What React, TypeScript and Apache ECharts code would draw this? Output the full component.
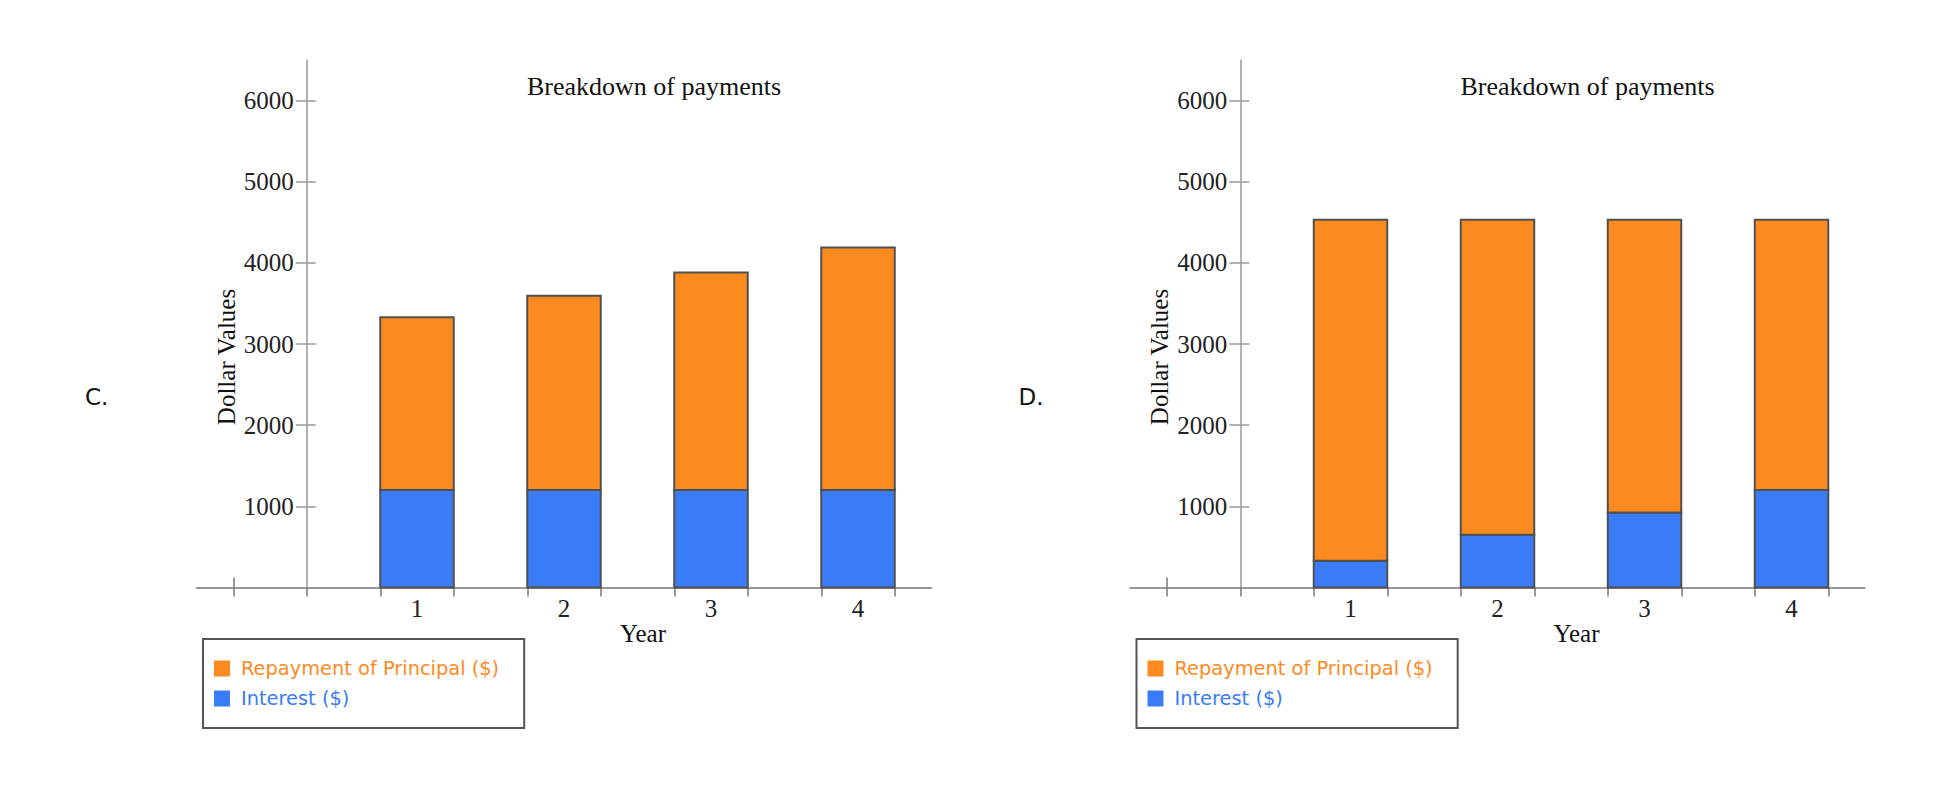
import React, { useEffect, useRef } from 'react';
import * as echarts from 'echarts';

// ---- data ----
const years = [1, 2, 3, 4];
const interestC = [1200, 1200, 1200, 1200];
const principalC = [2130, 2395, 2680, 2990];
const interestD = [330, 650, 925, 1200];
const principalD = [4200, 3880, 3605, 3330];
const yTickValues = [0, 1000, 2000, 3000, 4000, 5000, 6000];
const yLabelValues = [1000, 2000, 3000, 4000, 5000, 6000];
const xTickValues = [-0.25, 0.25, 0.75, 1.25, 1.75, 2.25, 2.75, 3.25, 3.75, 4.25];
const panelLetters = ['C.', 'D.'];
const chartTitle = 'Breakdown of payments';
const yName = 'Dollar Values';
const xName = 'Year';
const principalName = 'Repayment of Principal ($)';
const interestName = 'Interest ($)';

const ORANGE = '#FD8A1E';
const BLUE = '#3A7CF7';
const SERIF = '"Liberation Serif", "Times New Roman", serif';
const SANS = '"DejaVu Sans", Verdana, sans-serif';

const panels = [
  { interest: interestC, principal: principalC, dx: 0 },
  { interest: interestD, principal: principalD, dx: 933.5 },
];

const GRID_LEFT = 196.5;
const GRID_TOP = 60;
const GRID_W = 735;
const GRID_H = 527.5;
const X_MIN = -0.5;
const X_MAX = 4.5;
const Y_AXIS_AT = 0.25;
const BAR_W = 0.5;

export default function App() {
  const ref = useRef<HTMLDivElement>(null);
  useEffect(() => {
    if (!ref.current) return;
    const chart = echarts.init(ref.current, null, { renderer: 'svg' });
    const yOff = ((Y_AXIS_AT - X_MIN) / (X_MAX - X_MIN)) * GRID_W;

    const grids: any[] = [];
    const xAxes: any[] = [];
    const yAxes: any[] = [];
    const series: any[] = [];
    const legends: any[] = [];
    const graphics: any[] = [];

    const renderBar = (color: string) => (params: any, api: any) => {
      const x = api.value(0);
      const lo = api.value(1);
      const hi = api.value(2);
      const w = api.size([BAR_W, 0])[0];
      const pTop = api.coord([x, hi]);
      const pBot = api.coord([x, lo]);
      return {
        type: 'rect',
        shape: { x: pTop[0] - w / 2, y: pTop[1], width: w, height: pBot[1] - pTop[1] },
        style: { fill: color, stroke: '#505050', lineWidth: 2 },
      };
    };

    panels.forEach((p, i) => {
      const left = GRID_LEFT + p.dx;
      grids.push({ left, top: GRID_TOP, width: GRID_W, height: GRID_H, containLabel: false });
      xAxes.push({
        gridIndex: i,
        type: 'value',
        min: X_MIN,
        max: X_MAX,
        position: 'bottom',
        axisLine: { onZero: false, lineStyle: { color: '#777', width: 1.5 } },
        axisTick: { customValues: xTickValues, length: 9, lineStyle: { color: '#777', width: 1.5 } },
        axisLabel: {
          customValues: years,
          margin: 8,
          fontFamily: SERIF,
          fontSize: 25,
          color: '#222',
          formatter: (v: number) => String(v),
        },
        splitLine: { show: false },
      });
      xAxes.push({
        gridIndex: i,
        type: 'value',
        min: X_MIN,
        max: X_MAX,
        position: 'top',
        offset: -GRID_H,
        axisLine: { show: false, onZero: false },
        axisTick: { customValues: [xTickValues[0]], length: 10, lineStyle: { color: '#777', width: 1.5 } },
        axisLabel: { show: false },
        splitLine: { show: false },
      });
      yAxes.push({
        gridIndex: i,
        type: 'value',
        min: 0,
        max: 6500,
        position: 'left',
        offset: -yOff,
        axisLine: { onZero: false, lineStyle: { color: '#999', width: 1.5 } },
        axisTick: { customValues: yTickValues, length: 11, lineStyle: { color: '#999', width: 1.5 } },
        axisLabel: {
          customValues: yLabelValues,
          margin: 13,
          fontFamily: SERIF,
          fontSize: 25,
          color: '#222',
          formatter: (v: number) => String(v),
        },
        splitLine: { show: false },
      });
      yAxes.push({
        gridIndex: i,
        type: 'value',
        min: 0,
        max: 6500,
        position: 'right',
        offset: -(GRID_W - yOff),
        axisLine: { show: false, onZero: false },
        axisTick: { customValues: yTickValues, length: 9, lineStyle: { color: '#999', width: 1.5 } },
        axisLabel: { show: false },
        splitLine: { show: false },
      });

      series.push({
        type: 'custom',
        name: interestName,
        xAxisIndex: i * 2,
        yAxisIndex: i * 2,
        itemStyle: { color: BLUE },
        encode: { x: 0, y: 2 },
        renderItem: renderBar(BLUE),
        data: years.map((yr, k) => [yr, 0, p.interest[k]]),
      });
      series.push({
        type: 'custom',
        name: principalName,
        xAxisIndex: i * 2,
        yAxisIndex: i * 2,
        itemStyle: { color: ORANGE },
        encode: { x: 0, y: 2 },
        renderItem: renderBar(ORANGE),
        data: years.map((yr, k) => [yr, p.interest[k], p.interest[k] + p.principal[k]]),
      });

      legends.push({
        orient: 'vertical',
        left: 203 + p.dx,
        top: 639,
        icon: 'rect',
        itemWidth: 16,
        itemHeight: 16,
        itemGap: 11,
        selectedMode: false,
        borderColor: '#555',
        borderWidth: 2,
        padding: [20, 25, 20, 11],
        textStyle: { fontFamily: SANS, fontSize: 19.4, padding: [0, 0, 0, 6] },
        data: [
          { name: principalName, textStyle: { color: ORANGE } },
          { name: interestName, textStyle: { color: BLUE } },
        ],
      });

      graphics.push(
        {
          type: 'text',
          x: 654 + p.dx,
          y: 86,
          style: { text: chartTitle, fontFamily: SERIF, fontSize: 26, fill: '#111', align: 'center', verticalAlign: 'middle' },
        },
        {
          type: 'text',
          x: 226 + p.dx,
          y: 357,
          rotation: Math.PI / 2,
          style: { text: yName, fontFamily: SERIF, fontSize: 25, fill: '#111', align: 'center', verticalAlign: 'middle' },
        },
        {
          type: 'text',
          x: 643 + p.dx,
          y: 633,
          style: { text: xName, fontFamily: SERIF, fontSize: 25, fill: '#111', align: 'center', verticalAlign: 'middle' },
        },
        {
          type: 'text',
          x: 85 + p.dx,
          y: 397,
          style: { text: panelLetters[i], fontFamily: SANS, fontSize: 23, fill: '#111', align: 'left', verticalAlign: 'middle' },
        }
      );
    });

    chart.setOption({
      animation: false,
      backgroundColor: '#fff',
      grid: grids,
      xAxis: xAxes,
      yAxis: yAxes,
      legend: legends,
      series,
      graphic: graphics,
    });
    return () => chart.dispose();
  }, []);

  return (
    <div
      ref={ref}
      style={{ position: 'absolute', left: 0, top: 0, width: 1938, height: 798, background: '#fff' }}
    />
  );
}
